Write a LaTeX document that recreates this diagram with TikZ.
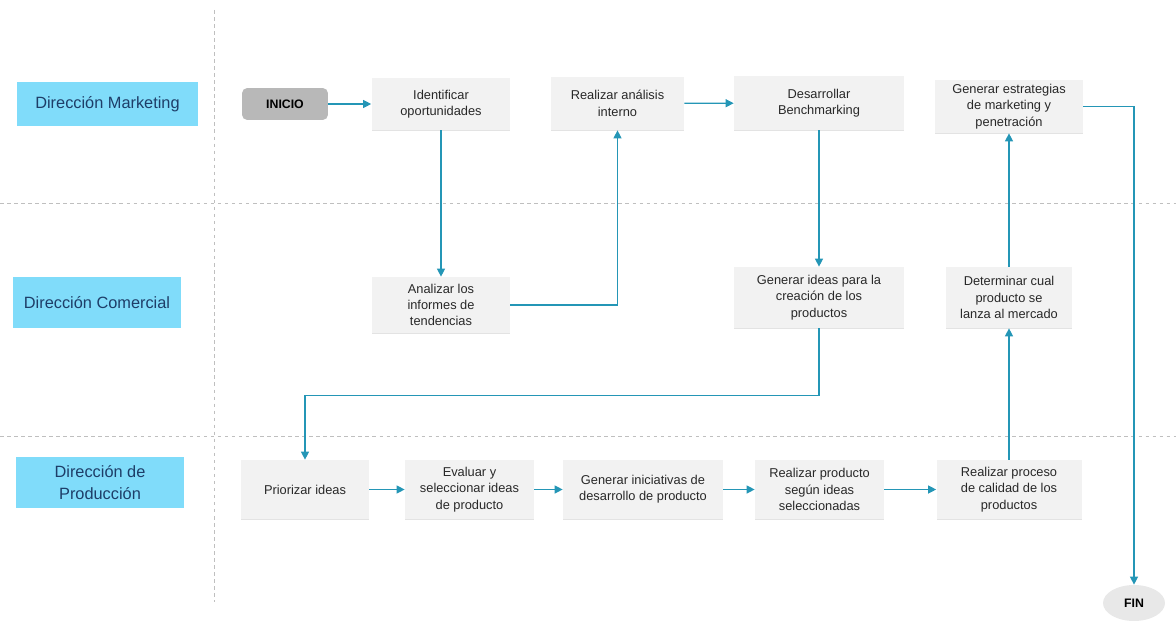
\documentclass[tikz,border=0pt]{standalone}
\usepackage{fontspec}
\setmainfont{Liberation Sans}
\usetikzlibrary{arrows.meta,shadows,shapes.geometric}
\definecolor{flow}{RGB}{36,150,182}
\definecolor{lane}{RGB}{128,220,250}
\definecolor{lanetext}{RGB}{30,62,104}
\definecolor{boxfill}{RGB}{242,242,242}
\definecolor{boxtext}{RGB}{40,40,40}
\begin{document}
\begin{tikzpicture}[x=0.02cm,y=-0.02cm,
  lanebox/.style={fill=lane, inner sep=0pt, align=center, text=lanetext,
    font=\fontsize{9.3}{13}\selectfont},
  stepbox/.style={fill=boxfill, inner sep=0pt, align=center, text=boxtext,
    font=\fontsize{7.3}{9.3}\selectfont,
    drop shadow={shadow xshift=0pt, shadow yshift=-0.7pt, fill=black!22}},
  terminal/.style={inner sep=0pt, align=center, text=black,
    font=\fontsize{7}{9}\selectfont\bfseries},
  flowline/.style={draw=flow, line width=0.7pt, -{Triangle[width=4.6pt,length=4.6pt]}},
  separator/.style={draw=black!25, line width=0.5pt, dash pattern=on 2pt off 2pt}]
\useasboundingbox (0,0) rectangle (1176,625);

% swimlane separators
\draw[separator] (214,10) -- (214,602);
\draw[separator] (0,203) -- (1176,203);
\draw[separator] (0,436) -- (1176,436);

% lane titles
\node[lanebox, minimum width=3.62cm, minimum height=0.88cm] (lm) at (107.5,104) {Dirección Marketing};
\node[lanebox, minimum width=3.36cm, minimum height=1.02cm] (lc) at (97,302.5) {Dirección Comercial};
\node[lanebox, minimum width=3.36cm, minimum height=1.02cm] (lp) at (100,482.5) {Dirección de\\Producción};

% start and end
\node[terminal, fill=black!28, rounded corners=3pt, minimum width=1.72cm, minimum height=0.64cm] (inicio) at (285,104) {INICIO};
\node[terminal, ellipse, fill=black!9, minimum width=1.24cm, minimum height=0.72cm] (fin) at (1134,603) {FIN};

% marketing lane
\node[stepbox, minimum width=2.78cm, minimum height=1.04cm] (ident) at (441,104) {Identificar\\oportunidades};
\node[stepbox, minimum width=2.66cm, minimum height=1.06cm] (anint) at (617.5,103.5) {Realizar análisis\\interno};
\node[stepbox, minimum width=3.40cm, minimum height=1.08cm] (bench) at (819,103) {Desarrollar\\Benchmarking};
\node[stepbox, minimum width=2.96cm, minimum height=1.06cm] (estr) at (1009,106.5) {Generar estrategias\\de marketing y\\penetración};

% commercial lane
\node[stepbox, minimum width=2.76cm, minimum height=1.12cm] (tend) at (441,305) {Analizar los\\informes de\\tendencias};
\node[stepbox, minimum width=3.40cm, minimum height=1.22cm] (ideas) at (819,297.5) {Generar ideas para la\\creación de los\\productos};
\node[stepbox, minimum width=2.52cm, minimum height=1.22cm] (lanza) at (1009,297.5) {Determinar cual\\producto se\\lanza al mercado};

% production lane
\node[stepbox, minimum width=2.56cm, minimum height=1.18cm] (prio) at (305,489.5) {Priorizar ideas};
\node[stepbox, minimum width=2.58cm, minimum height=1.18cm] (eval) at (469.5,489.5) {Evaluar y\\seleccionar ideas\\de producto};
\node[stepbox, minimum width=3.20cm, minimum height=1.18cm] (inic) at (643,489.5) {Generar iniciativas de\\desarrollo de producto};
\node[stepbox, minimum width=2.58cm, minimum height=1.18cm] (prod) at (819.5,489.5) {Realizar producto\\según ideas\\seleccionadas};
\node[stepbox, minimum width=2.90cm, minimum height=1.18cm] (cal) at (1009,489.5) {Realizar proceso\\de calidad de los\\productos};

% flow
\draw[flowline] (inicio) -- (ident);
\draw[flowline] (ident) -- (tend);
\draw[flowline] (tend.east) -| (anint.south);
\draw[flowline] (anint) -- (bench);
\draw[flowline] (bench) -- (ideas);
\draw[flowline] (ideas.south) -- ++(0,67) -| (prio.north);
\draw[flowline] (prio) -- (eval);
\draw[flowline] (eval) -- (inic);
\draw[flowline] (inic) -- (prod);
\draw[flowline] (prod) -- (cal);
\draw[flowline] (cal.north) -- (lanza.south);
\draw[flowline] (lanza.north) -- (estr.south);
\draw[flowline] (estr.east) -| (fin.north);
\end{tikzpicture}
\end{document}
